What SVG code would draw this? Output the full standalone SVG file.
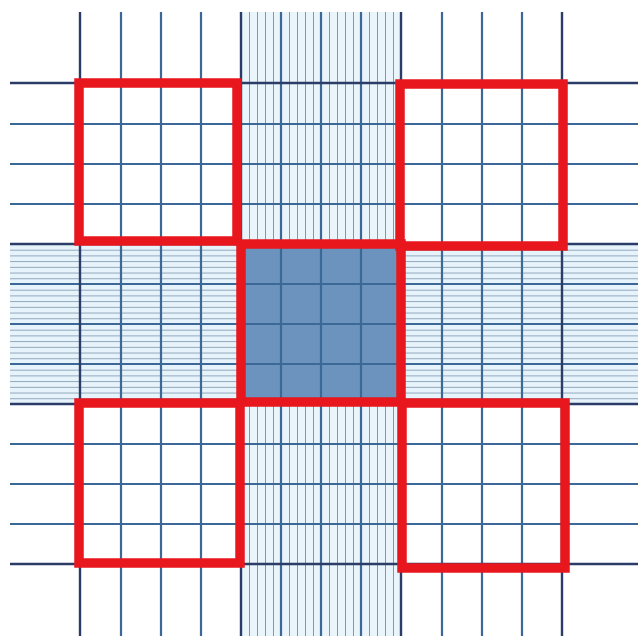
<svg xmlns="http://www.w3.org/2000/svg" width="638" height="636" viewBox="0 0 638 636">
  <defs>
    <pattern id="fineV" patternUnits="userSpaceOnUse" x="241" y="0" width="8" height="20">
      <rect x="-0.7" y="0" width="1.5" height="20" fill="#5a84b2"/>
    </pattern>
    <pattern id="fineH" patternUnits="userSpaceOnUse" x="0" y="244" width="20" height="5.714">
      <rect x="0" y="-0.8" width="20" height="1.7" fill="#8a9fb6"/>
    </pattern>
    <style>
      .main{stroke:#3b6896;stroke-width:2.2;fill:none}
      .bound{stroke:#2b3c68;stroke-width:2.4;fill:none}
      .box{fill:none;stroke:#e8161d;stroke-width:9.5}
    </style>
  </defs>
  <rect width="638" height="636" fill="#ffffff"/>
  <g id="fine-grid">
    <rect x="10" y="244" width="628" height="160" fill="#e6f3fa"/>
    <rect x="241" y="12" width="160" height="624" fill="#e9f4fb"/>
    <rect x="10" y="244" width="628" height="160" fill="url(#fineH)"/>
    <rect x="241" y="12" width="160" height="624" fill="url(#fineV)"/>
  </g>
  <g id="center-fill">
    <rect x="241" y="244" width="160" height="160" fill="#6b93bd"/>
  </g>
  <g id="main-grid">
    <g class="main">
      <line x1="121" y1="12" x2="121" y2="636"/>
      <line x1="161" y1="12" x2="161" y2="636"/>
      <line x1="201" y1="12" x2="201" y2="636"/>
      <line x1="281" y1="12" x2="281" y2="636"/>
      <line x1="321" y1="12" x2="321" y2="636"/>
      <line x1="361" y1="12" x2="361" y2="636"/>
      <line x1="442" y1="12" x2="442" y2="636"/>
      <line x1="482" y1="12" x2="482" y2="636"/>
      <line x1="522" y1="12" x2="522" y2="636"/>
      <line x1="10" y1="124" x2="638" y2="124"/>
      <line x1="10" y1="164" x2="638" y2="164"/>
      <line x1="10" y1="204" x2="638" y2="204"/>
      <line x1="10" y1="284" x2="638" y2="284"/>
      <line x1="10" y1="324" x2="638" y2="324"/>
      <line x1="10" y1="364" x2="638" y2="364"/>
      <line x1="10" y1="444" x2="638" y2="444"/>
      <line x1="10" y1="484" x2="638" y2="484"/>
      <line x1="10" y1="524" x2="638" y2="524"/>
    </g>
    <g class="bound">
      <line x1="80" y1="12" x2="80" y2="636"/>
      <line x1="241" y1="12" x2="241" y2="636"/>
      <line x1="401" y1="12" x2="401" y2="636"/>
      <line x1="562" y1="12" x2="562" y2="636"/>
      <line x1="10" y1="83" x2="638" y2="83"/>
      <line x1="10" y1="244" x2="638" y2="244"/>
      <line x1="10" y1="404" x2="638" y2="404"/>
      <line x1="10" y1="564" x2="638" y2="564"/>
    </g>
  </g>
  <g id="box-top-left"><rect class="box" x="79" y="83" width="158" height="158"/></g>
  <g id="box-top-right"><rect class="box" x="400" y="84" width="163" height="162"/></g>
  <g id="box-center"><rect class="box" x="241" y="244" width="160" height="158"/></g>
  <g id="box-bottom-left"><rect class="box" x="79" y="403" width="161" height="160"/></g>
  <g id="box-bottom-right"><rect class="box" x="402" y="403" width="163" height="165"/></g>
</svg>
